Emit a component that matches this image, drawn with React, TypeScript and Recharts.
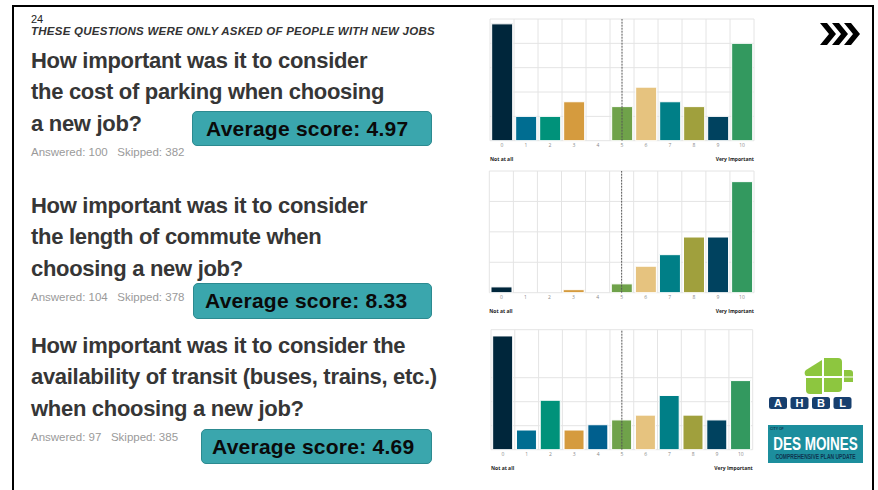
import React from "react";
import { BarChart, Bar, Cell, XAxis, YAxis, CartesianGrid, ReferenceLine, Label } from "recharts";

const scores = ["0", "1", "2", "3", "4", "5", "6", "7", "8", "9", "10"];
// percent of respondents per score
const parkingPct = [24, 5, 5, 8, 0, 7, 11, 8, 7, 5, 20];
const commutePct = [1.9, 0, 0, 1.0, 0, 2.9, 8.7, 12.5, 18.3, 18.3, 36.5];
const transitPct = [23.7, 4.1, 10.3, 4.1, 5.2, 6.2, 7.2, 11.3, 7.2, 6.2, 14.4];
const ticks25 = [0, 5, 10, 15, 20, 25];
const ticks40 = [0, 5, 10, 15, 20, 25, 30, 35, 40];
const barColors = ["#00263b", "#006d91", "#00927a", "#d59b3e", "#005f8e", "#6fa24a", "#e6c37f", "#007f87", "#a0a03d", "#00425f", "#33995f"];

const FONT = "'Liberation Sans', Arial, sans-serif";

type ChartProps = {
  values: number[];
  yTicks: number[];
  top: number;
  plotTop: number;
  plotBottom: number;
  plotLeft: number;
  plotRight: number;
};

function ScoreChart({ values, yTicks, top, plotTop, plotBottom, plotLeft, plotRight }: ChartProps) {
  const data = scores.map((s, i) => ({ score: s, pct: values[i] }));
  const left = 480;
  const width = 290;
  const height = 160;
  const axisH = 20;
  const margin = {
    top: plotTop - top,
    left: plotLeft - left,
    right: left + width - plotRight,
    bottom: top + height - plotBottom - axisH,
  };
  return (
    <div style={{ position: "absolute", left, top }}>
      <BarChart width={width} height={height} data={data} margin={margin} barCategoryGap="7%">
        <CartesianGrid
          stroke="#e4e4e4"
          verticalCoordinatesGenerator={({ offset }: any) =>
            scores.concat([""]).map((_, i) => offset.left + (i * offset.width) / scores.length)
          }
        />
        <XAxis
          dataKey="score"
          height={axisH}
          axisLine={false}
          tickLine={false}
          tickSize={0}
          tickMargin={3}
          interval={0}
          tick={{ fill: "#8a8a8a", fontSize: 5, fontFamily: "'Open Sans', sans-serif" }}
        >
          <Label value="Not at all" position="insideBottomLeft" offset={0} style={{ fontSize: 5, fontWeight: 700, fill: "#222", fontFamily: "'Open Sans', sans-serif" }} />
          <Label value="Very Important" position="insideBottomRight" offset={0} style={{ fontSize: 5, fontWeight: 700, fill: "#222", fontFamily: "'Open Sans', sans-serif" }} />
        </XAxis>
        <YAxis hide domain={[0, yTicks[yTicks.length - 1]]} ticks={yTicks} />
        <Bar dataKey="pct" isAnimationActive={false} stroke="#ffffff" strokeWidth={1}>
          {data.map((d, i) => (
            <Cell key={d.score} fill={barColors[i]} />
          ))}
        </Bar>
        <ReferenceLine x="5" stroke="#555" strokeDasharray="2 1" strokeWidth={1} />
      </BarChart>
    </div>
  );
}

const question: React.CSSProperties = {
  position: "absolute",
  left: 31,
  fontSize: 22,
  fontWeight: 700,
  lineHeight: "31.5px",
  letterSpacing: -0.3,
  color: "#363636",
  whiteSpace: "nowrap",
};
const answered: React.CSSProperties = {
  position: "absolute",
  left: 31,
  fontSize: 11.5,
  lineHeight: 1,
  color: "#9a9a9a",
  whiteSpace: "pre",
};
const scoreBox: React.CSSProperties = {
  position: "absolute",
  background: "#3aa6ad",
  border: "1px solid #2c8a90",
  borderRadius: 5,
  boxSizing: "border-box",
  display: "flex",
  alignItems: "center",
  fontSize: 21,
  fontWeight: 700,
  letterSpacing: 0.25,
  color: "#0a0a0a",
  whiteSpace: "nowrap",
};

export default function App() {
  return (
    <div style={{ position: "absolute", left: 0, top: 0, width: 878, height: 490, background: "#fff", overflow: "hidden", fontFamily: FONT }}>
      <div style={{ position: "absolute", left: 12, top: 5, width: 862, height: 500, border: "2.5px solid #000", boxSizing: "border-box" }} />

      <div style={{ position: "absolute", left: 31, top: 13.7, fontSize: 11, lineHeight: 1, color: "#222" }}>24</div>
      <div style={{ position: "absolute", left: 31, top: 26.3, fontSize: 11.5, lineHeight: 1, fontWeight: 700, fontStyle: "italic", letterSpacing: 0.25, color: "#333", whiteSpace: "nowrap" }}>
        THESE QUESTIONS WERE ONLY ASKED OF PEOPLE WITH NEW JOBS
      </div>

      <div style={{ ...question, top: 44.6 }}>
        How important was it to consider
        <br />
        the cost of parking when choosing
        <br />a new job?
      </div>
      <div style={{ ...answered, top: 147.3 }}>{"Answered: 100   Skipped: 382"}</div>
      <div style={{ ...scoreBox, left: 192, top: 111, width: 240, height: 35, paddingLeft: 13 }}>Average score: 4.97</div>

      <div style={{ ...question, top: 189.6 }}>
        How important was it to consider
        <br />
        the length of commute when
        <br />
        choosing a new job?
      </div>
      <div style={{ ...answered, top: 292.3 }}>{"Answered: 104   Skipped: 378"}</div>
      <div style={{ ...scoreBox, left: 193, top: 283, width: 239, height: 36, paddingLeft: 11 }}>Average score: 8.33</div>

      <div style={{ ...question, top: 329.6 }}>
        How important was it to consider the
        <br />
        availability of transit (buses, trains, etc.)
        <br />
        when choosing a new job?
      </div>
      <div style={{ ...answered, top: 432.3 }}>{"Answered: 97   Skipped: 385"}</div>
      <div style={{ ...scoreBox, left: 201, top: 429, width: 231, height: 35, paddingLeft: 10 }}>Average score: 4.69</div>

      <ScoreChart values={parkingPct} yTicks={ticks25} top={10} plotTop={19} plotBottom={140.7} plotLeft={490} plotRight={754} />
      <ScoreChart values={commutePct} yTicks={ticks40} top={165} plotTop={171} plotBottom={292.7} plotLeft={489.3} plotRight={754} />
      <ScoreChart values={transitPct} yTicks={ticks25} top={322} plotTop={329.7} plotBottom={449.7} plotLeft={491} plotRight={752.7} />

      {/* chevron icon */}
      <svg style={{ position: "absolute", left: 820, top: 23 }} width={42} height={24}>
        {[0, 12, 24].map((dx) => (
          <polygon key={dx} points={`${dx},0 ${dx + 7},0 ${dx + 16},11 ${dx + 7},22 ${dx},22 ${dx + 9},11`} fill="#000" />
        ))}
      </svg>

      {/* AHBL + Des Moines logos */}
      <svg style={{ position: "absolute", left: 766, top: 356 }} width={100} height={110}>
        <g fill="#8dc63f">
          <path d="M58 2 h14 a4 4 0 0 1 4 4 v14 h-18 z" />
          <path d="M56 4 v16 h-16 a4 4 0 0 1 0 -6 z" />
          <path d="M58 22 h18 v10 a4 4 0 0 1 -4 4 h-14 z" />
          <path d="M56 22 v16 h-12 a4 4 0 0 1 -4 -4 v-12 z" />
          <path d="M78 14 h6 a3 3 0 0 1 3 3 v9 h-9 z" />
        </g>
        <g stroke="#fff" strokeWidth={1.2}>
          <line x1={57} y1={2} x2={57} y2={40} />
          <line x1={38} y1={21} x2={88} y2={21} />
        </g>
        {["A", "H", "B", "L"].map((ch, i) => (
          <g key={ch}>
            <rect x={3 + i * 21.5} y={41} width={18} height={12} rx={2.5} fill="#173f6e" />
            <text x={12 + i * 21.5} y={51} textAnchor="middle" fill="#fff" fontSize={11} fontWeight={700} fontFamily={FONT}>
              {ch}
            </text>
          </g>
        ))}
        <rect x={2} y={69} width={95} height={38} fill="#1c8e9d" />
        <text x={4} y={74} fontSize={3.5} fill="#0e3550" fontWeight={700} fontFamily={FONT}>CITY OF</text>
        <text transform="translate(49.5,94) scale(1,1.4)" textAnchor="middle" fontSize={13.5} fontWeight={700} fill="#fff" fontFamily={FONT}>
          DES MOINES
        </text>
        <text transform="translate(49.5,103) scale(1,1.35)" textAnchor="middle" fontSize={5} fontWeight={700} fill="#0e3550" fontFamily={FONT}>
          COMPREHENSIVE PLAN UPDATE
        </text>
      </svg>
    </div>
  );
}
